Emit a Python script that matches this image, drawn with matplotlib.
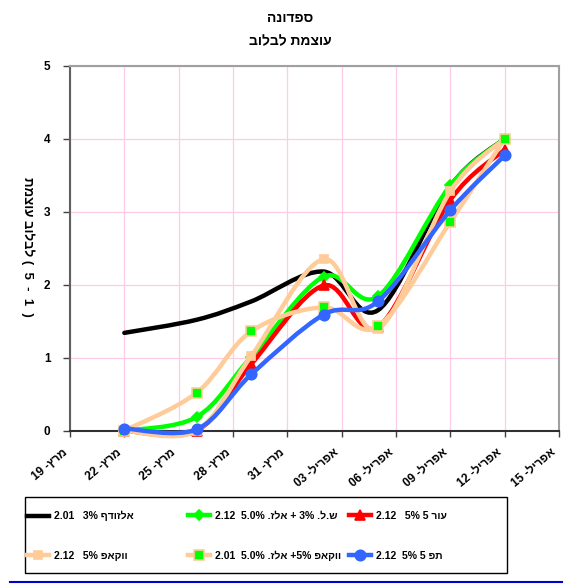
import numpy as np
import pandas as pd
import matplotlib
matplotlib.use('Agg')
import matplotlib.pyplot as plt
from matplotlib.path import Path
from matplotlib.patches import PathPatch, Rectangle
from matplotlib.lines import Line2D
from matplotlib.transforms import ScaledTranslation


def h(s):
    # no bidi in matplotlib -> hebrew runs are reversed for display
    return s[::-1]


# data
start = pd.Timestamp('2012-03-19')
obs_dates = pd.to_datetime(['2012-03-22', '2012-03-26', '2012-03-29', '2012-04-02',
                            '2012-04-05', '2012-04-09', '2012-04-12'])
tick_dates = pd.date_range('2012-03-19', '2012-04-15', freq='3D')
month_names = {3: 'מרץ', 4: 'אפריל'}

black = [1.34, 1.52, 1.77, 2.18, 1.65, 3.35, 4.0]
green = [0.0, 0.19, 1.01, 2.11, 1.84, 3.36, 4.0]
red = [0.0, 0.0, 0.91, 1.99, 1.42, 3.16, 3.85]
peach = [0.0, 0.0, 1.02, 2.35, 1.39, 3.28, 4.0]
peach_sq = [0.0, 0.52, 1.36, 1.69, 1.43, 2.86, 4.0]
blue = [0.03, 0.02, 0.77, 1.59, 1.77, 3.02, 3.77]

lbl_black = "2.01   3% " + h('אלזודף')
lbl_green = "2.12  5.0% " + h('אלז.') + " + 3% " + h('ש.ל.')
lbl_red = "2.12   5% 5 " + h('עור')
lbl_peach = "2.12   5% " + h('ווקאפ')
lbl_peach_sq = "2.01  5.0% " + h('אלז.') + " +5% " + h('ווקאפ')
lbl_blue = "2.12  5% 5 " + h('תפ')

title1 = h('ספדונה')
title2 = h('עוצמת לבלוב')
ylab = h('עוצמת') + ' ' + h('לבלוב') + ' (  5  -  1  )'

FONT = dict(family=['Liberation Sans', 'DejaVu Sans'], weight='bold')
PEACH = '#FFCC99'
GREEN = '#00FF00'
BLUE = '#3366FF'

x = np.array((obs_dates - start).days, dtype=float)
xt = np.array((tick_dates - start).days, dtype=float)
xt_labels = [f"{d.day:02d} -" + h(month_names[d.month]) for d in tick_dates]


def smooth_path(xs, ys):
    # excel style smoothed line (catmull-rom as cubic bezier)
    pts = np.column_stack([xs, ys]).astype(float)
    ext = np.vstack([pts[0], pts, pts[-1]])
    verts = [pts[0]]
    codes = [Path.MOVETO]
    for i in range(len(pts) - 1):
        p0, p1, p2, p3 = ext[i], ext[i + 1], ext[i + 2], ext[i + 3]
        verts += [p1 + (p2 - p0) / 6, p2 - (p3 - p1) / 6, p2]
        codes += [Path.CURVE4] * 3
    return Path(verts, codes)


fig = plt.figure(figsize=(5.72, 5.85), dpi=100)
ax = fig.add_axes([70 / 572, 1 - 430.7 / 585, (559 - 70) / 572, (430.7 - 65.7) / 585])

series = [
    (black, 'black', None, 'black', 'black', lbl_black, 0),
    (green, GREEN, 'D', GREEN, GREEN, lbl_green, 5),
    (red, 'red', '^', 'red', 'red', lbl_red, 7),
    (peach, PEACH, 's', PEACH, PEACH, lbl_peach, 6),
    (peach_sq, PEACH, 's', GREEN, PEACH, lbl_peach_sq, 6.5),
    (blue, BLUE, 'o', BLUE, BLUE, lbl_blue, 7.5),
]

handles = {}
for i, (vals, col, mk, fc, ec, lbl, ms) in enumerate(series):
    patch = PathPatch(smooth_path(x, vals), facecolor='none', edgecolor=col,
                      lw=3.2, capstyle='round', joinstyle='round',
                      zorder=3 + i, clip_on=False)
    ax.add_patch(patch)
    if mk:
        ax.plot(x, vals, linestyle='none', marker=mk, ms=ms, mfc=fc, mec=ec,
                mew=1.2, zorder=3.5 + i, clip_on=False)
    handles[lbl] = Line2D([], [], color=col, lw=3.2, marker=mk, ms=ms,
                          mfc=fc, mec=ec, mew=1.2)

ax.set_xlim(0, 27)
ax.set_ylim(0, 5)
ax.set_xticks(xt)
ax.set_xticklabels([])
# x labels placed by hand, rotated, right end just left of / below the tick
lab_tr = ax.get_xaxis_transform() + ScaledTranslation(-8 / 100, -16 / 100, fig.dpi_scale_trans)
for xv, lab in zip(xt, xt_labels):
    ax.text(xv, 0, lab, transform=lab_tr, rotation=40, ha='right', va='top',
            rotation_mode='anchor', fontsize=8.5, clip_on=False, **FONT)
ax.set_yticks(range(6))
ax.set_yticklabels([str(v) for v in range(6)], fontsize=8.5, **FONT)
ax.tick_params(axis='x', direction='out', length=4, width=1, color='#404040')
ax.tick_params(axis='y', direction='out', length=5, width=1, pad=9, color='#404040')
ax.grid(True, color='#FFCCE6', lw=0.9)
ax.set_axisbelow(True)
for s in ['top', 'right']:
    ax.spines[s].set_color('#A0A0A0')
    ax.spines[s].set_linewidth(1.5)
ax.spines['left'].set_color('#606060')
ax.spines['left'].set_linewidth(1.5)
ax.spines['bottom'].set_color('#303030')
ax.spines['bottom'].set_linewidth(1.5)

fig.text(290 / 572, 1 - 18 / 585, title1, ha='center', va='center',
         fontsize=10, **FONT)
fig.text(290 / 572, 1 - 41 / 585, title2, ha='center', va='center',
         fontsize=10, **FONT)
fig.text(28 / 572, 1 - 247 / 585, ylab, ha='center', va='center', rotation=270,
         fontsize=9.5, **FONT)

# legend: three columns placed by hand inside one frame
cols = [(27, [lbl_black, lbl_peach]),
        (188, [lbl_green, lbl_peach_sq]),
        (349, [lbl_red, lbl_blue])]
for xpos, labels in cols:
    leg = fig.legend([handles[l] for l in labels], labels, loc='upper left',
                     bbox_to_anchor=(xpos / 572, 1 - 511 / 585), frameon=False,
                     borderpad=0, borderaxespad=0, handlelength=2.1,
                     handletextpad=0.5, labelspacing=2.85,
                     prop=dict(size=7.5, **FONT))

fig.add_artist(Rectangle((25 / 572, 1 - 573 / 585), (507 - 25) / 572, (573 - 497) / 585,
                         transform=fig.transFigure, fill=False, ec='black', lw=1))
fig.add_artist(Line2D([10 / 572, 562 / 572], [1 - 582 / 585, 1 - 582 / 585],
                      transform=fig.transFigure, color='#0000CC', lw=1.5))

fig.savefig('out.png', dpi=100)
